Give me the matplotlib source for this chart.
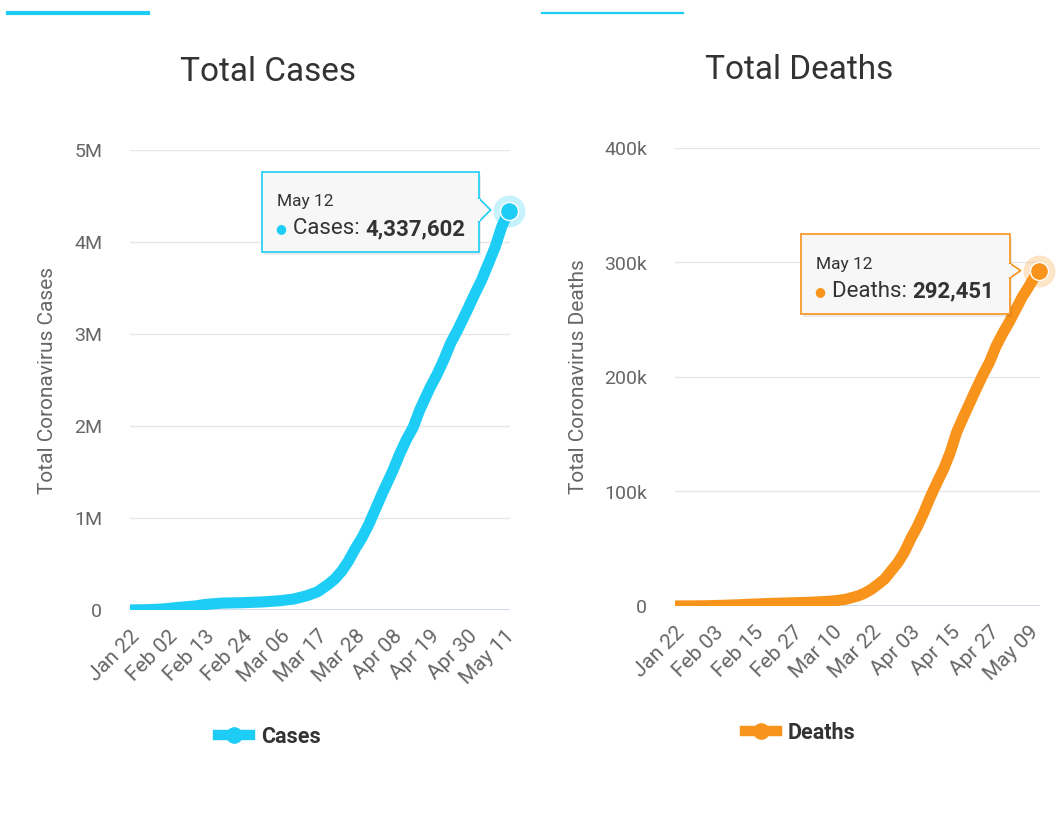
import matplotlib
matplotlib.use('Agg')
import matplotlib.pyplot as plt
import matplotlib.dates as mdates
import matplotlib.transforms as mtransforms
from matplotlib.patches import Rectangle, Polygon
from matplotlib.lines import Line2D
import pandas as pd

plt.rcParams['font.family'] = ['Roboto', 'DejaVu Sans']

# values
cases_dates = ['2020-01-22', '2020-01-27', '2020-02-01', '2020-02-05', '2020-02-10',
               '2020-02-13', '2020-02-18', '2020-02-24', '2020-03-01', '2020-03-06',
               '2020-03-10', '2020-03-14', '2020-03-17', '2020-03-20', '2020-03-22',
               '2020-03-24', '2020-03-26', '2020-03-28', '2020-03-30', '2020-04-01',
               '2020-04-03', '2020-04-05', '2020-04-08', '2020-04-10', '2020-04-12',
               '2020-04-14', '2020-04-16', '2020-04-19', '2020-04-21', '2020-04-23',
               '2020-04-25', '2020-04-27', '2020-04-30', '2020-05-02', '2020-05-04',
               '2020-05-06', '2020-05-08', '2020-05-10', '2020-05-11', '2020-05-12']
cases_values = [555, 2900, 12000, 28000, 43000,
                60000, 75000, 79500, 88000, 101000,
                119000, 157000, 198000, 275000, 336000,
                420000, 530000, 665000, 785000, 930000,
                1100000, 1270000, 1510000, 1690000, 1850000,
                1985000, 2180000, 2420000, 2560000, 2720000,
                2900000, 3040000, 3270000, 3430000, 3580000,
                3760000, 3940000, 4170000, 4250000, 4337602]

deaths_dates = ['2020-01-22', '2020-01-27', '2020-02-01', '2020-02-05', '2020-02-10',
                '2020-02-15', '2020-02-20', '2020-02-27', '2020-03-03', '2020-03-10',
                '2020-03-14', '2020-03-18', '2020-03-20', '2020-03-22', '2020-03-24',
                '2020-03-26', '2020-03-28', '2020-03-30', '2020-04-01', '2020-04-03',
                '2020-04-05', '2020-04-07', '2020-04-09', '2020-04-11', '2020-04-13',
                '2020-04-15', '2020-04-17', '2020-04-19', '2020-04-21', '2020-04-23',
                '2020-04-25', '2020-04-27', '2020-04-29', '2020-05-01', '2020-05-03',
                '2020-05-05', '2020-05-07', '2020-05-09', '2020-05-10', '2020-05-12']
deaths_values = [17, 82, 259, 565, 1018,
                 1666, 2247, 2810, 3200, 4290,
                 5800, 8900, 11400, 14700, 19000,
                 23600, 30800, 37800, 47000, 59000,
                 69500, 82000, 95700, 108000, 119700,
                 134000, 152000, 165000, 177500, 190000,
                 202000, 213000, 227000, 238000, 248000,
                 259000, 270000, 279000, 284000, 292451]

cases_ticks = ['2020-01-22', '2020-02-02', '2020-02-13', '2020-02-24', '2020-03-06',
               '2020-03-17', '2020-03-28', '2020-04-08', '2020-04-19', '2020-04-30',
               '2020-05-11']
deaths_ticks = ['2020-01-22', '2020-02-03', '2020-02-15', '2020-02-27', '2020-03-10',
                '2020-03-22', '2020-04-03', '2020-04-15', '2020-04-27', '2020-05-09']

cases_yticks = [0, 1e6, 2e6, 3e6, 4e6, 5e6]
cases_ylabels = ['0', '1M', '2M', '3M', '4M', '5M']
deaths_yticks = [0, 1e5, 2e5, 3e5, 4e5]
deaths_ylabels = ['0', '100k', '200k', '300k', '400k']

CYAN = '#1ecdf5'
ORANGE = '#f8941c'

W, H = 1064, 822
fig = plt.figure(figsize=(W / 100, H / 100), dpi=100)
fig.patch.set_facecolor('white')


def px_axes(x0, y0, x1, y1):
    return fig.add_axes([x0 / W, 1 - y1 / H, (x1 - x0) / W, (y1 - y0) / H])


def panel(ax, dates, values, ticks, yticks, ylabels, color, ylabel, name,
          tip_label, legend_xy, box, notch):
    x = mdates.date2num(pd.to_datetime(dates))
    ax.plot(x, values, color=color, lw=8, solid_capstyle='round',
            solid_joinstyle='round', zorder=3)
    ax.set_xlim(x[0], x[-1] + 0.4)
    ax.set_ylim(yticks[0], yticks[-1])

    tx = mdates.date2num(pd.to_datetime(ticks))
    ax.set_xticks(tx)
    ax.set_xticklabels([d.strftime('%b %d') for d in pd.to_datetime(ticks)],
                       rotation=45, ha='right', va='top', rotation_mode='anchor')
    ax.set_yticks(yticks)
    ax.set_yticklabels(ylabels)
    ax.tick_params(axis='x', length=0, pad=12, labelsize=15, labelcolor='#666666')
    ax.tick_params(axis='y', length=0, pad=20, labelsize=14, labelcolor='#666666')
    ax.set_ylabel(ylabel, fontsize=15, color='#666666', labelpad=12)

    for s in ax.spines.values():
        s.set_visible(False)
    ax.grid(axis='y', color='#e6e6e6', lw=1)
    ax.set_axisbelow(True)
    ax.axhline(0, color='#ccd6eb', lw=1.2, zorder=1)

    # highlighted last point
    ax.plot(x[-1], values[-1], 'o', ms=23, color=color, alpha=0.25, mec='none',
            zorder=4, clip_on=False)
    ax.plot(x[-1], values[-1], 'o', ms=13, color=color, mec='white', mew=1,
            zorder=5, clip_on=False)

    # tooltip anchored to the last point, sizes in pixels
    tr = mtransforms.Affine2D() + mtransforms.ScaledTranslation(x[-1], values[-1], ax.transData)
    bx0, bx1, by0, by1 = box
    ax.add_patch(Rectangle((bx0 + 2, by0 - 3), bx1 - bx0, by1 - by0, transform=tr,
                           fc='#000000', alpha=0.08, ec='none', zorder=6, clip_on=False))
    ax.add_patch(Rectangle((bx0, by0), bx1 - bx0, by1 - by0, transform=tr,
                           fc='#f7f7f7', ec=color, lw=1.2, zorder=7, clip_on=False))
    ny0, ny1, tipx = notch
    ax.add_patch(Polygon([(bx1, ny0), (tipx, (ny0 + ny1) / 2), (bx1, ny1)], closed=True,
                         transform=tr, fc='#f7f7f7', ec=color, lw=1.2, zorder=7,
                         clip_on=False))
    ax.add_patch(Rectangle((bx1 - 1.5, ny0 + 1), 3, ny1 - ny0 - 2, transform=tr,
                           fc='#f7f7f7', ec='none', zorder=8, clip_on=False))
    ax.text(bx0 + 15, by1 - 30, 'May 12', transform=tr, fontsize=12.5, color='#333333',
            va='center', ha='left', zorder=9)
    ax.text(bx0 + 19, by0 + 23, '\u25cf', transform=tr, fontsize=9, color=color,
            va='center', ha='center', zorder=9)
    t1 = ax.text(bx0 + 31, by0 + 23, name + ': ', transform=tr, fontsize=16,
                 color='#333333', va='center', ha='left', zorder=9)
    ax.annotate(tip_label, xycoords=t1, xy=(1, 0.5), va='center', ha='left',
                fontsize=16, fontweight='bold', color='#333333', zorder=9,
                annotation_clip=False)

    handle = Line2D([], [], color=color, lw=7.5, marker='o', ms=11)
    leg = ax.legend([handle], [name], loc='center', bbox_to_anchor=legend_xy,
                    bbox_transform=fig.transFigure, frameon=False, handlelength=1.5,
                    handletextpad=0.5, prop={'size': 15.5, 'weight': 'bold'})
    for t in leg.get_texts():
        t.set_color('#333333')


ax1 = px_axes(130, 150, 510, 610)
panel(ax1, cases_dates, cases_values, cases_ticks, cases_yticks, cases_ylabels, CYAN,
      'Total Coronavirus Cases', 'Cases', '4,337,602',
      (269 / W, 1 - 737 / H), (-247, -30, -41, 39), (-11, 13, -18))

ax2 = px_axes(675, 148, 1040, 606)
panel(ax2, deaths_dates, deaths_values, deaths_ticks, deaths_yticks, deaths_ylabels, ORANGE,
      'Total Coronavirus Deaths', 'Deaths', '292,451',
      (800 / W, 1 - 733 / H), (-238, -29, -43, 37), (-7, 8, -18))

fig.text(268 / W, 1 - 72 / H, 'Total Cases', fontsize=24, color='#333333',
         ha='center', va='center')
fig.text(799 / W, 1 - 70 / H, 'Total Deaths', fontsize=24, color='#333333',
         ha='center', va='center')

# tab underlines at the top
fig.add_artist(Line2D([8 / W, 148 / W], [1 - 13 / H, 1 - 13 / H], color=CYAN, lw=3))
fig.add_artist(Line2D([542 / W, 683 / W], [1 - 13 / H, 1 - 13 / H], color=CYAN, lw=1.6))

fig.savefig('out.png', dpi=100)
